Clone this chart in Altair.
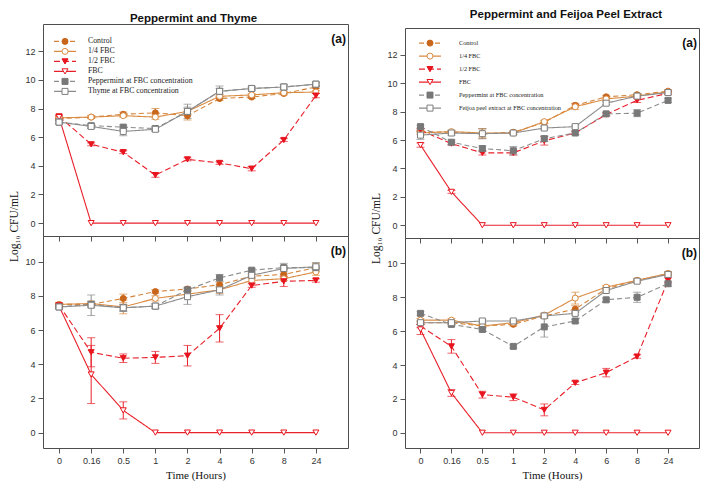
import math
import altair as alt
import pandas as pd

TIME_LABELS = ["0", "0.16", "0.5", "1", "2", "4", "6", "8", "24"]

SERIES_L = ["Control", "1/4 FBC", "1/2 FBC", "FBC",
            "Peppermint at FBC concentration", "Thyme at FBC concentration"]
SERIES_R = ["Control", "1/4 FBC", "1/2 FBC", "FBC",
            "Peppermint at FBC concentration", "Feijoa peel extract at FBC concentration"]

# ---- Peppermint and Thyme, panel (a): means and SD per series ----
LA_CONTROL = [7.3, 7.4, 7.6, 7.7, 7.5, 8.7, 8.8, 9.05, 9.5]
LA_QUARTER = [7.35, 7.4, 7.5, 7.4, 7.8, 8.85, 8.95, 9.1, 9.15]
LA_HALF = [7.45, 5.5, 4.95, 3.35, 4.45, 4.2, 3.8, 5.8, 8.9]
LA_FBC = [7.4, 0, 0, 0, 0, 0, 0, 0, 0]
LA_PEPP = [7.05, 6.8, 6.7, 6.6, 7.8, 9.2, 9.4, 9.5, 9.7]
LA_OTHER = [7.05, 6.75, 6.4, 6.55, 7.8, 9.2, 9.4, 9.5, 9.7]
LA_E_CONTROL = [0.1, 0.1, 0.15, 0.3, 0.3, 0.15, 0.1, 0.1, 0.1]
LA_E_QUARTER = [0.1, 0.1, 0.1, 0.15, 0.2, 0.1, 0.1, 0.1, 0.1]
LA_E_HALF = [0.1, 0.1, 0.1, 0.15, 0.1, 0.1, 0.15, 0.1, 0.15]
LA_E_FBC = [0.1, 0, 0, 0, 0, 0, 0, 0, 0]
LA_E_PEPP = [0.1, 0.15, 0.15, 0.15, 0.3, 0.2, 0.1, 0.15, 0.1]
LA_E_OTHER = [0.1, 0.15, 0.3, 0.15, 0.5, 0.37, 0.1, 0.2, 0.15]

# ---- Peppermint and Thyme, panel (b) ----
LB_CONTROL = [7.5, 7.5, 7.85, 8.25, 8.4, 8.65, 9.15, 9.25, 9.65]
LB_QUARTER = [7.5, 7.55, 7.35, 7.85, 8.1, 8.35, 8.9, 9.0, 9.4]
LB_HALF = [7.45, 4.7, 4.35, 4.4, 4.5, 6.1, 8.6, 8.85, 8.9]
LB_FBC = [7.4, 3.4, 1.3, 0, 0, 0, 0, 0, 0]
LB_PEPP = [7.35, 7.5, 7.3, 7.4, 8.35, 9.05, 9.5, 9.65, 9.65]
LB_OTHER = [7.35, 7.45, 7.3, 7.4, 7.95, 8.35, 9.2, 9.6, 9.7]
LB_E_CONTROL = [0.1, 0.1, 0.25, 0.1, 0.1, 0.15, 0.1, 0.15, 0.25]
LB_E_QUARTER = [0.1, 0.1, 0.4, 0.15, 0.2, 0.2, 0.1, 0.1, 0.2]
LB_E_HALF = [0.1, 0.85, 0.25, 0.35, 0.6, 0.8, 0.1, 0.3, 0.1]
LB_E_FBC = [0.1, 1.7, 0.5, 0, 0, 0, 0, 0, 0]
LB_E_PEPP = [0.1, 0.2, 0.2, 0.1, 0.1, 0.2, 0.1, 0.1, 0.1]
LB_E_OTHER = [0.1, 0.6, 0.2, 0.15, 0.45, 0.3, 0.1, 0.3, 0.25]

# ---- Peppermint and Feijoa Peel Extract, panel (a) ----
RA_CONTROL = [6.6, 6.55, 6.45, 6.55, 7.25, 8.45, 9.05, 9.2, 9.45]
RA_QUARTER = [6.5, 6.6, 6.5, 6.5, 7.3, 8.35, 8.9, 9.1, 9.4]
RA_HALF = [6.7, 5.75, 5.1, 5.1, 5.95, 6.5, 7.8, 8.8, 9.3]
RA_FBC = [5.65, 2.35, 0, 0, 0, 0, 0, 0, 0]
RA_PEPP = [6.95, 5.85, 5.4, 5.25, 6.1, 6.5, 7.85, 7.9, 8.8]
RA_OTHER = [6.35, 6.5, 6.45, 6.5, 6.85, 6.95, 8.6, 9.1, 9.35]
RA_E_CONTROL = [0.1, 0.1, 0.35, 0.1, 0.1, 0.15, 0.1, 0.1, 0.1]
RA_E_QUARTER = [0.1, 0.1, 0.3, 0.1, 0.1, 0.2, 0.1, 0.1, 0.1]
RA_E_HALF = [0.1, 0.1, 0.15, 0.15, 0.3, 0.1, 0.1, 0.15, 0.1]
RA_E_FBC = [0.15, 0.1, 0, 0, 0, 0, 0, 0, 0]
RA_E_PEPP = [0.1, 0.15, 0.2, 0.3, 0.2, 0.1, 0.1, 0.25, 0.15]
RA_E_OTHER = [0.3, 0.15, 0.35, 0.1, 0.1, 0.1, 0.1, 0.1, 0.1]

# ---- Peppermint and Feijoa Peel Extract, panel (b) ----
RB_CONTROL = [6.5, 6.5, 6.3, 6.4, 6.9, 7.3, 8.5, 9.0, 9.4]
RB_QUARTER = [6.65, 6.65, 6.3, 6.5, 6.95, 7.95, 8.6, 9.0, 9.4]
RB_HALF = [6.3, 5.1, 2.25, 2.1, 1.35, 2.95, 3.55, 4.5, 9.0]
RB_FBC = [6.1, 2.35, 0, 0, 0, 0, 0, 0, 0]
RB_PEPP = [7.05, 6.4, 6.1, 5.1, 6.25, 6.6, 7.85, 8.0, 8.8]
RB_OTHER = [6.5, 6.5, 6.6, 6.6, 6.9, 7.05, 8.4, 8.95, 9.35]
RB_E_CONTROL = [0.1, 0.1, 0.1, 0.1, 0.15, 0.2, 0.1, 0.1, 0.1]
RB_E_QUARTER = [0.1, 0.1, 0.1, 0.1, 0.1, 0.35, 0.1, 0.1, 0.1]
RB_E_HALF = [0.1, 0.4, 0.2, 0.2, 0.35, 0.1, 0.25, 0.1, 0.15]
RB_E_FBC = [0.3, 0.2, 0, 0, 0, 0, 0, 0, 0]
RB_E_PEPP = [0.1, 0.1, 0.1, 0.1, 0.6, 0.1, 0.1, 0.3, 0.15]
RB_E_OTHER = [0.1, 0.1, 0.1, 0.1, 0.1, 0.1, 0.1, 0.1, 0.1]

Y_TICKS_A = [0, 2, 4, 6, 8, 10, 12]
Y_TICKS_B = [0, 2, 4, 6, 8, 10]

LINE_COLORS = ["#D4843A", "#D98B42", "#E8202A", "#E8202A", "#8C8C8C", "#8C8C8C"]
DASHES = [[5, 3], [1, 0], [6, 3], [1, 0], [5, 3], [1, 0]]
MARK_STROKE = ["#C8661C", "#D98B42", "#E8141E", "#E8141E", "#787878", "#7E7E7E"]
MARK_FILL = ["#C8661C", "#FFFFFF", "#E8141E", "#FFFFFF", "#787878", "#FFFFFF"]
SHAPES = ["circle", "circle", "triangle-down", "triangle-down", "square", "square"]

FONT_SANS = "Liberation Sans"
FONT_SERIF = "Liberation Serif"
LABEL_EXPR = "[" + ",".join("'" + s + "'" for s in TIME_LABELS) + "][datum.value]"
PT_SIZE = 36


def build_df(series, means, errs):
    rows = []
    for s, m, e in zip(series, means, errs):
        for i, (v, d) in enumerate(zip(m, e)):
            rows.append({"series": s, "series2": s + " ", "t": i, "v": v,
                         "lo": v - d, "hi": v + d, "err": d})
    return pd.DataFrame(rows)


def panel(series, means, errs, ydom, yticks, w, h, tag, bottom,
          title=None, title_offset=0, title_dx=0, legend_cfg=None):
    df = build_df(series, means, errs)
    bars = df[df.err > 0.04]
    caps = pd.concat([bars.assign(c=bars.lo), bars.assign(c=bars.hi)], ignore_index=True)
    series2 = [s + " " for s in series]

    xk = dict(values=list(range(9)), labelExpr=LABEL_EXPR, labels=bottom,
              ticks=True, tickSize=5, tickColor="#555555", domain=False, grid=False,
              labelFont=FONT_SANS, labelFontSize=9, labelColor="#333333", labelPadding=3)
    if bottom:
        xk.update(title="Time (Hours)", titleFont=FONT_SERIF, titleFontSize=11,
                  titleFontWeight="normal", titleColor="#111111", titlePadding=4)
    else:
        xk.update(title=None)
    yk = dict(values=yticks, tickSize=5, tickColor="#555555", domain=False, grid=False,
              labelFont=FONT_SANS, labelFontSize=9, labelColor="#333333", labelPadding=3)
    if not bottom:
        yk.update(title="Log₁₀ CFU/mL", titleY=h - 10, titleFont=FONT_SERIF, titleFontSize=11.5,
                  titleFontWeight="normal", titleColor="#111111", titlePadding=5)
    else:
        yk.update(title=None)

    xscale = alt.Scale(domain=[-0.5, 9.0], nice=False, zero=False)
    yscale = alt.Scale(domain=ydom, nice=False, zero=False)
    X = alt.X("t:Q", scale=xscale, axis=alt.Axis(**xk))
    Y = alt.Y("v:Q", scale=yscale, axis=alt.Axis(**yk))

    if legend_cfg:
        lx, ly, ch, fs, loff = legend_cfg
        size1 = max(math.ceil(math.sqrt(484) + 1.2), fs)
        size2 = max(math.ceil(math.sqrt(PT_SIZE) + 1), fs)
        leg1 = alt.Legend(orient="none", legendX=lx, legendY=ly, title=None,
                          symbolType="stroke", symbolSize=484, symbolStrokeWidth=1.2,
                          clipHeight=ch, rowPadding=0, padding=0,
                          labelFont=FONT_SERIF, labelFontSize=fs, labelColor="#222222",
                          labelOffset=loff, labelLimit=400)
        leg2 = alt.Legend(orient="none", legendX=lx, legendY=ly, title=None,
                          symbolSize=PT_SIZE, symbolStrokeWidth=1, clipHeight=ch,
                          rowPadding=0, padding=0, labelFont=FONT_SERIF,
                          labelFontSize=fs, labelExpr="''", labelOffset=loff,
                          symbolOffset=(size1 - size2) / 2.0, labelLimit=400)
    else:
        leg1 = None
        leg2 = None

    lines = alt.Chart(df).mark_line(strokeWidth=1.1).encode(
        x=X, y=Y,
        color=alt.Color("series:N", scale=alt.Scale(domain=series, range=LINE_COLORS), legend=leg1),
        strokeDash=alt.StrokeDash("series:N", scale=alt.Scale(domain=series, range=DASHES), legend=leg1),
        order="t:Q",
    )
    rules = alt.Chart(bars).mark_rule(strokeWidth=1).encode(
        x=X, y=alt.Y("lo:Q", scale=yscale, axis=alt.Axis(**yk)), y2="hi:Q",
        color=alt.Color("series:N", legend=None),
    )
    capm = alt.Chart(caps).mark_tick(orient="horizontal", size=8, thickness=1).encode(
        x=X, y=alt.Y("c:Q", scale=yscale, axis=alt.Axis(**yk)),
        color=alt.Color("series:N", legend=None),
    )
    pts = alt.Chart(df).mark_point(filled=True, size=PT_SIZE, opacity=1, strokeWidth=1).encode(
        x=X, y=Y,
        shape=alt.Shape("series2:N", scale=alt.Scale(domain=series2, range=SHAPES), legend=leg2),
        fill=alt.Fill("series2:N", scale=alt.Scale(domain=series2, range=MARK_FILL), legend=leg2),
        stroke=alt.Stroke("series2:N", scale=alt.Scale(domain=series2, range=MARK_STROKE), legend=leg2),
    )
    tagm = alt.Chart(pd.DataFrame({"tag": [tag]})).mark_text(
        align="right", baseline="top", font=FONT_SANS, fontWeight="bold",
        fontSize=12, color="#111111",
    ).encode(x=alt.value(w - 2), y=alt.value(10), text="tag:N")

    props = dict(width=w, height=h)
    if title:
        props["title"] = alt.TitleParams(title, font=FONT_SANS, fontSize=11.5, fontWeight="bold",
                                         color="#111111", offset=title_offset, dx=title_dx,
                                         anchor="middle")
    return alt.layer(lines, rules, capm, pts, tagm).properties(**props)


RES = dict(color="independent", strokeDash="independent", shape="independent",
           fill="independent", stroke="independent", x="independent", y="independent")
LRES = dict(color="independent", strokeDash="independent", shape="independent",
            fill="independent", stroke="independent")

LW, LH = 305, 212
RW, RH = 294, 210

lt = panel(SERIES_L,
           [LA_CONTROL, LA_QUARTER, LA_HALF, LA_FBC, LA_PEPP, LA_OTHER],
           [LA_E_CONTROL, LA_E_QUARTER, LA_E_HALF, LA_E_FBC, LA_E_PEPP, LA_E_OTHER],
           [-0.9, 13.9], Y_TICKS_A, LW, LH, "(a)", False,
           title="Peppermint and Thyme", title_offset=0, title_dx=-2,
           legend_cfg=(10, 12.5, 9.8, 7.8, 11))
lb = panel(SERIES_L,
           [LB_CONTROL, LB_QUARTER, LB_HALF, LB_FBC, LB_PEPP, LB_OTHER],
           [LB_E_CONTROL, LB_E_QUARTER, LB_E_HALF, LB_E_FBC, LB_E_PEPP, LB_E_OTHER],
           [-0.9, 11.5], Y_TICKS_B, LW, LH, "(b)", True)
rt = panel(SERIES_R,
           [RA_CONTROL, RA_QUARTER, RA_HALF, RA_FBC, RA_PEPP, RA_OTHER],
           [RA_E_CONTROL, RA_E_QUARTER, RA_E_HALF, RA_E_FBC, RA_E_PEPP, RA_E_OTHER],
           [-0.9, 13.9], Y_TICKS_A, RW, RH, "(a)", False,
           legend_cfg=(13, 9, 12.2, 6.3, 17))
rb = panel(SERIES_R,
           [RB_CONTROL, RB_QUARTER, RB_HALF, RB_FBC, RB_PEPP, RB_OTHER],
           [RB_E_CONTROL, RB_E_QUARTER, RB_E_HALF, RB_E_FBC, RB_E_PEPP, RB_E_OTHER],
           [-0.9, 11.5], Y_TICKS_B, RW, RH, "(b)", True)

# thin empty band carrying the right-hand title, so the right panels sit a little lower
spacer = alt.Chart(pd.DataFrame({"s": [""]})).mark_text().encode(text="s:N").properties(
    width=RW, height=4,
    title=alt.TitleParams("Peppermint and Feijoa Peel Extract", font=FONT_SANS, fontSize=11.5,
                          fontWeight="bold", color="#111111", offset=0, dx=14, anchor="middle"),
    view=alt.ViewBackground(stroke="transparent"),
)

left = alt.vconcat(lt, lb, spacing=0, bounds="flush").resolve_scale(**RES).resolve_legend(**LRES)
right = alt.vconcat(spacer, rt, rb, spacing=0, bounds="flush").resolve_scale(**RES).resolve_legend(**LRES)

chart = (
    alt.hconcat(left, right, spacing=21)
    .resolve_scale(**RES)
    .resolve_legend(**LRES)
    .properties(padding=0, background="white")
    .configure_view(stroke="#4d4d4d", strokeWidth=1)
)

chart.save("out.html", embed_options={"renderer": "svg", "actions": False})
